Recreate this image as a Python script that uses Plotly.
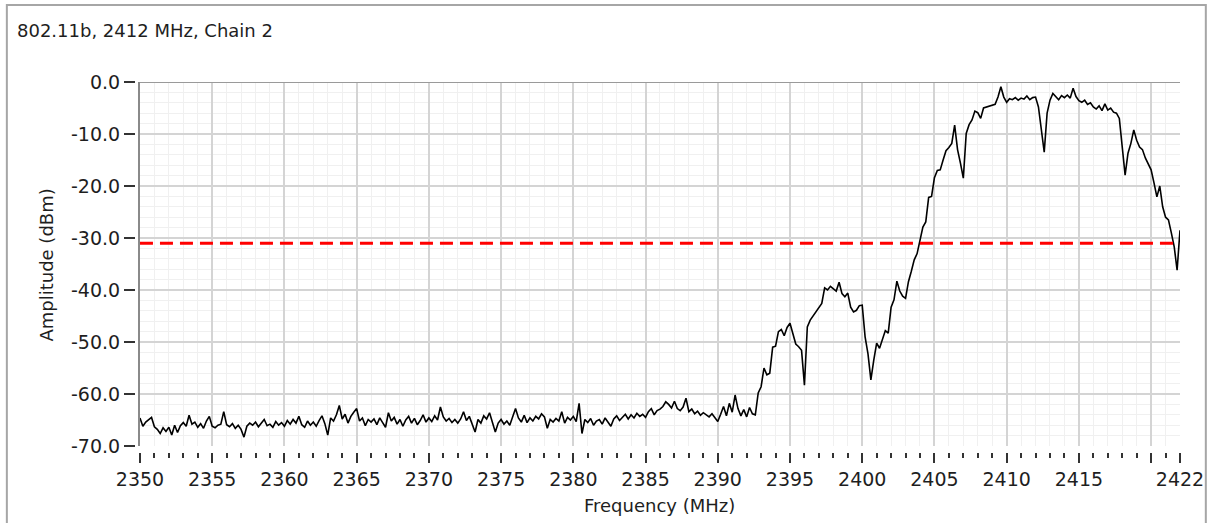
import numpy as np
import plotly.graph_objects as go

# ---------------- data ----------------
f_start, f_stop = 2350.0, 2422.0          # sweep span (MHz), 0.2 MHz bins

# measured amplitude (dBm), one value per 0.2 MHz bin
amp_2350_2370 = [
    -64.6, -66.2, -65.4, -65.0, -64.5,
    -66.3, -66.8, -67.6, -66.5, -67.2,
    -66.4, -67.9, -66.0, -67.4, -66.1,
    -65.5, -66.2, -64.1, -65.8, -65.4,
    -66.4, -65.7, -66.6, -65.2, -64.3,
    -66.2, -66.5, -66.0, -65.8, -63.4,
    -65.9, -66.3, -65.7, -66.6, -66.0,
    -66.8, -68.3, -66.2, -65.6, -66.0,
    -65.4, -66.3, -65.7, -64.9, -66.1,
    -65.8, -66.4, -65.3, -66.0, -65.5,
    -66.2, -65.1, -65.8, -64.9, -65.6,
    -64.3, -65.9, -66.4, -65.2, -66.0,
    -65.4, -66.2, -65.1, -64.2, -65.7,
    -67.9, -64.6, -65.2, -64.0, -62.2,
    -64.8, -63.9, -65.6, -64.3, -63.5,
    -62.8, -65.2, -64.6, -66.1, -64.9,
    -65.4, -64.8, -65.9, -64.6, -65.5,
    -66.4, -63.6, -65.2, -64.5, -65.8,
    -64.9, -66.2, -65.0, -64.3, -65.6,
    -64.7, -65.9, -65.1, -64.0, -65.4,
]
amp_2370_2390 = [
    -64.6, -65.3, -64.2, -65.0, -62.5,
    -64.4, -65.2, -64.7, -65.5, -64.9,
    -65.6, -64.8, -63.4, -65.1, -64.3,
    -65.8, -67.3, -64.9, -65.6, -64.2,
    -64.8, -63.6, -65.3, -67.3, -65.6,
    -64.9, -65.8, -65.2, -66.0, -64.4,
    -62.8, -64.6, -65.4, -64.1, -65.5,
    -64.6, -65.2, -64.3, -64.8, -63.8,
    -64.4, -66.6, -64.9, -65.4, -64.7,
    -65.2, -63.4, -65.6, -64.5, -65.0,
    -64.3, -65.3, -61.8, -67.6, -64.9,
    -65.5, -64.7, -66.0, -65.2, -64.9,
    -65.8, -64.6, -65.4, -66.2, -64.8,
    -64.2, -65.1, -64.4, -63.9, -64.8,
    -64.0, -64.6, -63.7, -64.3, -63.9,
    -64.5, -63.4, -62.8, -64.0, -63.2,
    -62.9, -62.4, -61.5, -62.0, -62.7,
    -61.4, -62.8, -63.2, -62.5, -60.8,
    -63.4, -62.9, -63.8, -63.3, -64.1,
    -63.6, -64.0, -64.4, -63.8, -64.6,
]
amp_2390_2406 = [
    -65.3, -63.9, -62.4, -64.2, -61.8,
    -63.5, -60.2, -62.8, -64.2, -63.0,
    -64.4, -62.6, -63.8, -64.0, -59.8,
    -58.6, -55.0, -56.3, -56.0, -51.0,
    -50.8, -48.0, -47.6, -48.8, -47.2,
    -46.4, -48.5, -50.4, -50.9, -51.6,
    -58.3, -47.1, -45.8, -45.0, -44.4,
    -43.4, -42.6, -39.6, -40.0, -39.3,
    -39.8, -40.2, -38.5, -40.7, -41.3,
    -40.6, -43.3, -44.2, -43.9, -43.0,
    -42.9, -49.0, -52.3, -57.3, -53.5,
    -50.2, -51.2, -49.3, -47.8, -48.3,
    -43.3, -41.9, -38.3, -40.2, -41.2,
    -41.6, -38.4, -36.4, -34.2, -33.0,
    -30.4, -27.9, -26.9, -22.2, -22.0,
    -18.4, -17.0, -16.9, -15.0, -13.2,
]
amp_2406_2422 = [
    -12.6, -11.8, -8.3, -13.0, -15.6,
    -18.5, -9.9, -8.2, -7.3, -5.6,
    -5.9, -7.0, -5.0, -4.8, -4.6,
    -4.5, -4.3, -2.9, -0.9, -2.9,
    -3.9, -3.2, -3.4, -3.0, -3.5,
    -3.1, -3.3, -2.7, -3.4, -3.0,
    -2.9, -4.8, -8.8, -13.5, -6.0,
    -3.5, -2.2, -2.8, -3.4, -2.6,
    -3.0, -2.5, -3.1, -1.2, -2.8,
    -3.6, -3.9, -3.5, -4.3, -4.0,
    -4.8, -5.2, -4.6, -5.5, -4.2,
    -5.4, -5.0, -5.8, -6.0, -7.0,
    -13.0, -17.9, -13.7, -11.8, -9.2,
    -11.2, -12.5, -13.0, -14.6, -15.6,
    -16.9, -19.4, -22.1, -20.0, -24.0,
    -26.0, -26.5, -29.0, -31.7, -36.2,
    -28.5,
]
amplitude = amp_2350_2370 + amp_2370_2390 + amp_2390_2406 + amp_2406_2422
frequency = np.linspace(f_start, f_stop, len(amplitude))

limit_dbm = -31.0                          # red limit line

x_tick_vals = [2350, 2355, 2360, 2365, 2370, 2375, 2380, 2385,
               2390, 2395, 2400, 2405, 2410, 2415, 2420, 2422]
x_tick_text = ["2350", "2355", "2360", "2365", "2370", "2375", "2380", "2385",
               "2390", "2395", "2400", "2405", "2410", "2415", "", "2422"]
y_tick_vals = [0, -10, -20, -30, -40, -50, -60, -70]
y_tick_text = ["0.0", "-10.0", "-20.0", "-30.0", "-40.0", "-50.0", "-60.0", "-70.0"]

title_text = "802.11b, 2412 MHz, Chain 2"
x_title = "Frequency (MHz)"
y_title = "Amplitude (dBm)"

# ---------------- layout geometry (pixels) ----------------
W, H = 1216, 523
ML, MR, MT, MB = 135, 29, 82, 71
PW, PH = W - ML - MR, H - MT - MB
GAP_X, GAP_Y = 5, 6                         # gap between frame and tick marks


def px_x(px):
    return (px - ML) / PW


def px_y(py):
    return (H - MB - py) / PH


FONT = "DejaVu Sans"
TXT = "#1e1e1e"
MAJOR_GRID = "#d4d4d4"
MINOR_GRID = "#f0f0f0"
TICK = "#333333"

fig = go.Figure()

# limit line (on the tick-carrying overlay axes)
fig.add_trace(go.Scatter(
    x=[f_start, f_stop], y=[limit_dbm, limit_dbm],
    xaxis="x2", yaxis="y2", mode="lines",
    line=dict(color="#ff0000", width=3, dash="13px,7px"),
    hoverinfo="skip", showlegend=False,
))

# spectrum trace
fig.add_trace(go.Scatter(
    x=frequency, y=amplitude, mode="lines",
    line=dict(color="#000000", width=1.6),
    showlegend=False,
))

fig.update_layout(
    width=W, height=H, autosize=False,
    margin=dict(l=ML, r=MR, t=MT, b=MB, pad=0),
    paper_bgcolor="white", plot_bgcolor="white",
    font=dict(family=FONT, size=19, color=TXT),
    xaxis=dict(
        domain=[GAP_X / PW, 1], range=[f_start, f_stop],
        tickmode="array", tickvals=x_tick_vals, showticklabels=False, ticks="",
        showgrid=True, gridcolor=MAJOR_GRID, gridwidth=2,
        zeroline=False, showline=False,
        minor=dict(tick0=2350, dtick=1, showgrid=True, gridcolor=MINOR_GRID,
                   gridwidth=1, ticks=""),
    ),
    yaxis=dict(
        domain=[GAP_Y / PH, 1], range=[-70, 0],
        tickmode="array", tickvals=y_tick_vals, showticklabels=False, ticks="",
        showgrid=True, gridcolor=MAJOR_GRID, gridwidth=2,
        zeroline=False, showline=True, linecolor="#8a8a8a", linewidth=2,
        minor=dict(tick0=0, dtick=2, showgrid=True, gridcolor=MINOR_GRID,
                   gridwidth=1, ticks=""),
    ),
    xaxis2=dict(
        overlaying="x", anchor="free", position=0, side="bottom",
        range=[f_start, f_stop],
        tickmode="array", tickvals=x_tick_vals, ticktext=x_tick_text,
        ticks="outside", ticklen=10, tickwidth=2, tickcolor=TICK,
        tickfont=dict(family=FONT, size=19, color=TXT),
        showgrid=False, zeroline=False, showline=False,
        minor=dict(tick0=2350, dtick=1, ticks="outside", ticklen=5,
                   tickwidth=2, tickcolor=TICK, showgrid=False),
    ),
    yaxis2=dict(
        overlaying="y", anchor="free", position=0, side="left",
        range=[-70, 0],
        tickmode="array", tickvals=y_tick_vals, ticktext=y_tick_text,
        ticks="outside", ticklen=11, tickwidth=2, tickcolor=TICK,
        tickfont=dict(family=FONT, size=19, color=TXT),
        showgrid=False, zeroline=False, showline=False,
    ),
    shapes=[
        # top frame edge of the plot area
        dict(type="line", xref="paper", yref="y", x0=GAP_X / PW, x1=1, y0=0, y1=0,
             line=dict(color="#9a9a9a", width=2), layer="above"),
        # outer panel border
        dict(type="rect", xref="paper", yref="paper",
             x0=px_x(6), x1=px_x(1213), y0=px_y(540), y1=px_y(5),
             line=dict(color="#a6a6a6", width=2), fillcolor="rgba(0,0,0,0)",
             layer="above"),
    ],
    annotations=[
        dict(text=title_text, xref="paper", yref="paper",
             x=px_x(14), y=px_y(30), xanchor="left", yanchor="middle",
             showarrow=False, font=dict(family=FONT, size=18, color=TXT)),
        dict(text=x_title, xref="paper", yref="paper",
             x=px_x(663.5), y=px_y(505), xanchor="center", yanchor="middle",
             showarrow=False, font=dict(family=FONT, size=18, color=TXT)),
        dict(text=y_title, xref="paper", yref="paper",
             x=px_x(45), y=px_y(265), xanchor="center", yanchor="middle",
             textangle=-90, showarrow=False,
             font=dict(family=FONT, size=18, color=TXT)),
    ],
)

fig.write_html("out.html")
